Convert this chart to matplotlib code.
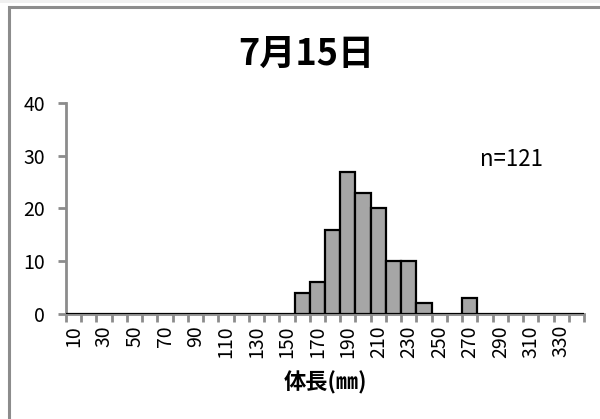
import matplotlib
matplotlib.use("Agg")
import matplotlib.pyplot as plt
import numpy as np
from matplotlib.patches import Rectangle

plt.rcParams['font.family'] = ['Noto Sans CJK JP', 'DejaVu Sans']

# body length classes (mm) and fish counts
lengths = list(range(10, 350, 10))
counts = [0] * len(lengths)
observed = {160: 4, 170: 6, 180: 16, 190: 27, 200: 23, 210: 20,
            220: 10, 230: 10, 240: 2, 270: 3}
for k, v in observed.items():
    counts[lengths.index(k)] = v

title = "7月15日"
xlabel = "体長(㎜)"
n_label = "n=121"
yticks = [0, 10, 20, 30, 40]

grey = "#8c8c8c"

fig = plt.figure(figsize=(6, 4.19), dpi=100)

# thin strip above the chart and the chart area border
fig.patches.append(Rectangle((0, 1 - 3 / 419), 1, 3 / 419,
                             transform=fig.transFigure, color="#f0f0f0",
                             linewidth=0))
fig.patches.append(Rectangle((9 / 600, -0.1), 1.2, 1 - 7.5 / 419 + 0.1,
                             transform=fig.transFigure, fill=False,
                             edgecolor=grey, linewidth=2.2))

ax = fig.add_axes([66 / 600, 105 / 419, 518 / 600, 211 / 419])
x = np.arange(len(lengths))
ax.bar(x, counts, width=1.0, color="#a6a6a6", edgecolor="black", linewidth=1.6,
       zorder=3)

ax.set_xlim(-0.5, len(lengths) - 0.5)
ax.set_ylim(0, 40)
ax.set_yticks(yticks)
ax.tick_params(axis='y', direction='out', length=6, width=2, color=grey,
               labelsize=14, pad=9)

ax.set_xticks(x[::2])
ax.set_xticklabels([str(v) for v in lengths[::2]], rotation=90)
ax.set_xticks(np.arange(-0.5, len(lengths)), minor=True)
ax.tick_params(axis='x', which='major', length=0, labelsize=14, pad=8)
ax.tick_params(axis='x', which='minor', direction='out', length=6, width=2,
               color=grey)

for s in ['top', 'right']:
    ax.spines[s].set_visible(False)
for s in ['left', 'bottom']:
    ax.spines[s].set_color(grey)
    ax.spines[s].set_linewidth(2)

fig.text(543 / 600, 1 - 160 / 419, n_label, ha='right', va='center',
         fontsize=16)

fig.text(306 / 600, 1 - 54 / 419, title, ha='center', va='center', fontsize=26,
         fontweight='bold')
fig.text(325 / 600, 1 - 383 / 419, xlabel, ha='center', va='center',
         fontsize=16, fontweight='bold')

fig.savefig("out.png", dpi=100)
